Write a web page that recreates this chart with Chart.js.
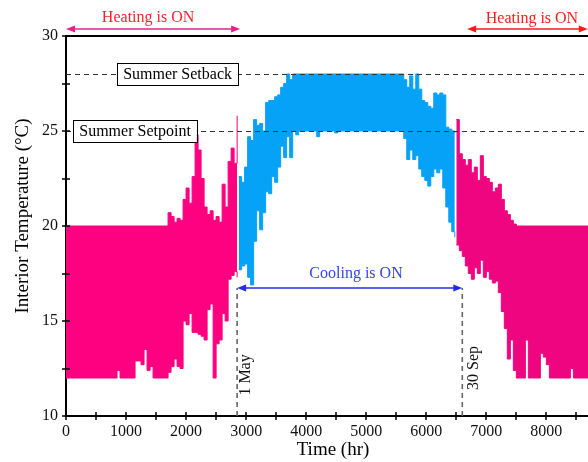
<!DOCTYPE html>
<html>
<head>
<meta charset="utf-8">
<script src="https://cdn.jsdelivr.net/npm/chart.js@4.4.1/dist/chart.umd.min.js"></script>
<style>
html, body { margin: 0; padding: 0; background: #fff; overflow: hidden; }
#wrap { width: 592px; height: 462px; }
</style>
</head>
<body>
<div id="wrap"><canvas id="myChart" width="592" height="462"></canvas></div>
<script>
// Hourly interior temperature, summarised as min/max per 50 hr block
const binHours = 50;
const timeTicks = [0, 1000, 2000, 3000, 4000, 5000, 6000, 7000, 8000];
const tempTicks = [10, 15, 20, 25, 30];

// Heating season, Jan - Apr (blocks from 0 hr)
const heatJanStart = 0;
const heatJanLow = [12, 12, 12, 12, 12, 12, 12, 12, 12, 12, 12, 12, 12, 12, 12, 12, 12,
    12.4, 12, 12, 12, 12, 12, 12.9, 12.9, 12.7, 13.5, 12.4, 12.6, 12, 12, 12, 12, 12,
    12.3, 12.6, 13.0, 12.6, 12.5, 15.0, 14.8, 15.4, 14.4, 14.4, 14.3, 14.2, 14.0, 15.6,
    15.9, 12.0, 13.8, 14.0, 15.4, 15.0, 17.2, 17.4, 17.6, 17.3];
const heatJanHigh = [20, 20, 20, 20, 20, 20, 20, 20, 20, 20, 20, 20, 20, 20, 20, 20, 20,
    20, 20, 20, 20, 20, 20, 20, 20, 20, 20, 20, 20, 20, 20, 20, 20, 20,
    20.7, 20.5, 20.2, 20.4, 20.3, 21.4, 22.0, 21.2, 22.6, 24.8, 24.0, 22.5, 21.0, 20.6,
    20.8, 20.3, 20.5, 20.2, 22.2, 21.0, 23.4, 24.1, 23.3, 25.8];

// Cooling season, May - Sep
const coolStart = 2875;
const coolLow = [17.7, 17.9, 18.0, 17.3, 16.9, 19.2, 20.8, 19.8, 20.7, 21.8, 21.7, 22.6,
    22.3, 23.1, 24.2, 23.6, 24.7, 23.6, 25.0, 24.8, 25.0,
    25, 25, 25, 25, 25, 24.7, 25, 25, 25, 25, 25, 24.9, 25, 25, 25, 25, 25, 25, 25, 25,
    25, 25, 25, 25, 25, 25, 25, 25, 25, 25, 25, 25, 25, 25,
    24.6, 23.5, 24.0, 23.5, 23.7, 23.0, 22.6, 22.4, 22.1, 22.6, 23.0, 22.8, 23.0, 22.0,
    21.0, 20.2, 19.7, 19.4];
const coolHigh = [22.6, 22.3, 23.1, 24.7, 24.5, 25.6, 25.3, 25.4, 25.0, 26.5, 26.6, 26.6,
    26.8, 26.9, 27.3, 27.5, 28.0, 27.7, 28.0, 28.0, 28.0,
    28, 28, 28, 28, 28, 28, 28, 28, 28, 28, 28, 28, 28, 28, 28, 28, 28, 28, 28, 28,
    28, 28, 28, 28, 28, 28, 28, 28, 28, 28, 28, 28, 28, 28,
    27.7, 27.3, 27.9, 27.2, 28.0, 27.2, 26.6, 26.5, 26.3, 26.2, 27.0, 26.9, 27.0, 26.9,
    25.2, 25.1, 25.0, 24.9];

// Heating season, Oct - Dec
const heatOctStart = 6500;
const heatOctLow = [19.0, 18.7, 18.4, 17.9, 17.5, 17.2, 17.8, 17.5, 18.2, 17.3, 17.6, 17.2,
    17.0, 17.1, 16.5, 15.5, 14.6, 13.0, 14.0, 12.4, 12.0, 12.0, 12.0, 14.0, 12.0, 12, 12,
    12, 13.3, 13.1, 12.7, 12, 12, 12, 12, 12, 12, 12, 12.5, 12, 12, 12, 12, 12, 12];
const heatOctHigh = [25.6, 23.8, 23.5, 23.2, 23.5, 22.8, 23.1, 22.4, 23.7, 22.6, 22.5, 22.3,
    21.8, 22.0, 22.2, 21.4, 20.8, 20.6, 20.3, 20.1, 20, 20, 20, 20, 20, 20, 20, 20, 20,
    20, 20, 20, 20, 20, 20, 20, 20, 20, 20, 20, 20, 20, 20, 20, 20];

// Reference lines and period markers
const setbackTemp = 28;
const setpointTemp = 25;
const coolingFrom = 2850;   // 1 May
const coolingTo = 6600;     // 30 Sep

const serif = "'Liberation Serif', 'DejaVu Serif', serif";

function points(start, values) {
    return values.map((v, i) => ({ x: start + i * binHours, y: v }));
}

// low edge + high edge filled down to it, held flat across each block
function band(label, start, lows, highs, color) {
    const line = { borderColor: color, borderWidth: 1, pointRadius: 0, stepped: true };
    return [
        Object.assign({ label: label + ' min', data: points(start, lows), fill: false }, line),
        Object.assign({ label: label + ' max', data: points(start, highs), fill: '-1', backgroundColor: color }, line)
    ];
}

function arrowHead(ctx, x, y, dir, color) {
    ctx.fillStyle = color;
    ctx.beginPath();
    ctx.moveTo(x, y);
    ctx.lineTo(x - dir * 9, y - 3.5);
    ctx.lineTo(x - dir * 9, y + 3.5);
    ctx.closePath();
    ctx.fill();
}

function doubleArrow(ctx, x1, x2, y, color) {
    ctx.strokeStyle = color;
    ctx.lineWidth = 1.5;
    ctx.setLineDash([]);
    ctx.beginPath();
    ctx.moveTo(x1 + 4, y);
    ctx.lineTo(x2 - 4, y);
    ctx.stroke();
    arrowHead(ctx, x1, y, -1, color);
    arrowHead(ctx, x2, y, 1, color);
}

function boxLabel(ctx, text, cx, cy) {
    ctx.font = '16px ' + serif;
    const w = ctx.measureText(text).width + 12;
    const h = 22;
    ctx.fillStyle = '#fff';
    ctx.fillRect(cx - w / 2, cy - h / 2, w, h);
    ctx.strokeStyle = '#000';
    ctx.lineWidth = 1;
    ctx.setLineDash([]);
    ctx.strokeRect(Math.round(cx - w / 2) + 0.5, Math.round(cy - h / 2) + 0.5, Math.round(w), h);
    ctx.fillStyle = '#000';
    ctx.textAlign = 'center';
    ctx.textBaseline = 'middle';
    ctx.fillText(text, cx, cy + 1);
}

function vText(ctx, text, cx, cy, color, size) {
    ctx.save();
    ctx.translate(cx, cy);
    ctx.rotate(-Math.PI / 2);
    ctx.font = size + 'px ' + serif;
    ctx.fillStyle = color;
    ctx.textAlign = 'center';
    ctx.textBaseline = 'middle';
    ctx.fillText(text, 0, 0);
    ctx.restore();
}

const decorations = {
    id: 'decorations',
    afterDraw(chart) {
        const ctx = chart.ctx;
        const area = chart.chartArea;
        const xs = chart.scales.x, ys = chart.scales.y;
        const px = v => xs.getPixelForValue(v);
        const py = v => ys.getPixelForValue(v);
        ctx.save();

        // setback / setpoint dashed lines
        ctx.strokeStyle = '#333';
        ctx.lineWidth = 1.2;
        ctx.setLineDash([5, 4]);
        [setbackTemp, setpointTemp].forEach(t => {
            const y = Math.round(py(t)) + 0.5;
            ctx.beginPath();
            ctx.moveTo(area.left, y);
            ctx.lineTo(area.right, y);
            ctx.stroke();
        });

        // cooling period markers
        const arrowY = py(16.74);
        ctx.strokeStyle = '#666';
        ctx.lineWidth = 1.6;
        ctx.setLineDash([5, 4]);
        [coolingFrom, coolingTo].forEach(h => {
            ctx.beginPath();
            ctx.moveTo(px(h), area.bottom);
            ctx.lineTo(px(h), arrowY);
            ctx.stroke();
        });
        doubleArrow(ctx, px(coolingFrom), px(coolingTo), arrowY, '#1f2cf0');
        ctx.font = '16px ' + serif;
        ctx.fillStyle = '#3343ee';
        ctx.textAlign = 'center';
        ctx.textBaseline = 'middle';
        ctx.fillText('Cooling is ON', px(4830), py(17.47));

        vText(ctx, '1 May', px(3000), py(12.16), '#111', 16);
        vText(ctx, '30 Sep', px(6790), py(12.53), '#111', 16);

        boxLabel(ctx, 'Summer Setback', px(1858), py(setbackTemp));
        boxLabel(ctx, 'Summer Setpoint', px(1150), py(setpointTemp));

        // heating periods above the plot
        doubleArrow(ctx, px(0), px(2900), py(30.37), '#e8208c');
        doubleArrow(ctx, px(6680), px(8690), py(30.37), '#ff1a1a');
        ctx.font = '16px ' + serif;
        ctx.textAlign = 'center';
        ctx.textBaseline = 'middle';
        ctx.fillStyle = '#ff2030';
        ctx.fillText('Heating is ON', px(1367), py(30.95));
        ctx.fillStyle = '#ff1a1a';
        ctx.fillText('Heating is ON', px(7760), py(30.9));

        // frame top and tick marks crossing the axes
        ctx.setLineDash([]);
        ctx.strokeStyle = '#000';
        ctx.lineWidth = 2;
        ctx.beginPath();
        ctx.moveTo(area.left, area.top);
        ctx.lineTo(area.right, area.top);
        ctx.stroke();
        ctx.lineWidth = 1.5;
        for (let h = 0; h <= 8500; h += 500) {
            const x = Math.round(px(h));
            ctx.beginPath();
            ctx.moveTo(x, area.bottom - 4);
            ctx.lineTo(x, area.bottom + 4);
            ctx.stroke();
        }
        for (let t = 10; t <= 30; t += 2.5) {
            const y = Math.round(py(t));
            ctx.beginPath();
            ctx.moveTo(area.left - 4, y);
            ctx.lineTo(area.left + 4, y);
            ctx.stroke();
        }

        // axis titles
        ctx.font = '19px ' + serif;
        ctx.fillStyle = '#000';
        ctx.textAlign = 'center';
        ctx.textBaseline = 'middle';
        ctx.fillText('Time (hr)', 333, 450);
        vText(ctx, 'Interior Temperature (°C)', 23, 216, '#000', 19);

        ctx.restore();
    }
};

const ctx = document.getElementById('myChart').getContext('2d');
const myChart = new Chart(ctx, {
    type: 'line',
    data: {
        datasets: [
            ...band('Heating (Jan-Apr)', heatJanStart, heatJanLow, heatJanHigh, '#fd0181'),
            ...band('Cooling', coolStart, coolLow, coolHigh, '#05a2f7'),
            ...band('Heating (Oct-Dec)', heatOctStart, heatOctLow, heatOctHigh, '#ef0580')
        ]
    },
    options: {
        responsive: false,
        devicePixelRatio: 1,
        animation: false,
        layout: { padding: { top: 36, right: 0, left: 0, bottom: 0 } },
        plugins: {
            legend: { display: false },
            tooltip: { enabled: false }
        },
        scales: {
            x: {
                type: 'linear',
                min: 0,
                max: 8760,
                afterFit: s => { s.height = 46; },
                afterBuildTicks: s => { s.ticks = timeTicks.map(v => ({ value: v })); },
                grid: { display: false, drawTicks: false },
                border: { display: true, color: '#000', width: 2 },
                ticks: {
                    padding: 6,
                    maxRotation: 0,
                    autoSkip: false,
                    color: '#111',
                    font: { family: serif, size: 16 },
                    callback: v => String(v)
                }
            },
            y: {
                type: 'linear',
                min: 10,
                max: 30,
                afterFit: s => { s.width = 66; },
                afterBuildTicks: s => { s.ticks = tempTicks.map(v => ({ value: v })); },
                grid: { display: false, drawTicks: false },
                border: { display: true, color: '#000', width: 2 },
                ticks: {
                    padding: 8,
                    color: '#111',
                    font: { family: serif, size: 16 },
                    callback: v => String(v)
                }
            }
        }
    },
    plugins: [decorations]
});
</script>
</body>
</html>
